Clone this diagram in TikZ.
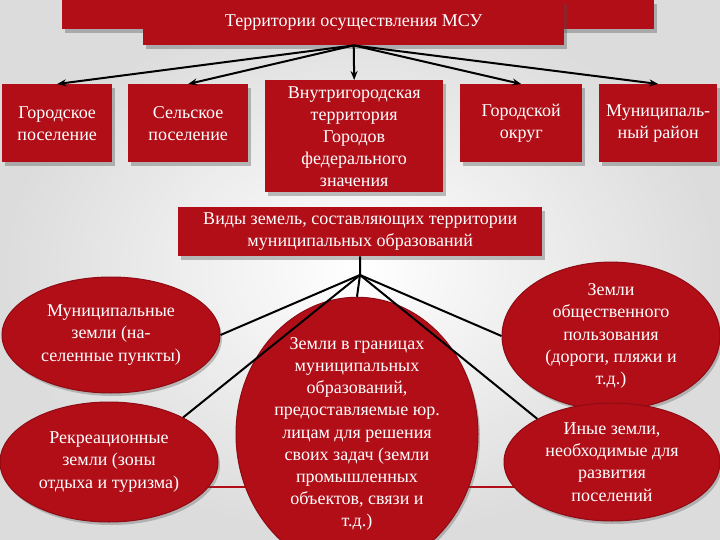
\documentclass[tikz,border=0pt]{standalone}
\usepackage{fontspec}
\setmainfont{Liberation Serif}
\usetikzlibrary{shapes.geometric,shadows,arrows.meta}
\definecolor{dred}{RGB}{178,14,24}
\definecolor{bgc}{RGB}{236,236,236}
\tikzset{
  redbox/.style={rectangle, fill=dred, text=white, align=center, inner sep=0pt,
    font=\fontsize{18}{22}\selectfont,
    drop shadow={shadow xshift=3pt, shadow yshift=-4pt, opacity=0.35, fill=black!70}},
  redell/.style={ellipse, fill=dred, text=white, align=center, inner sep=0pt,
    font=\fontsize{18}{22.2}\selectfont, draw=dred!80!black, line width=1pt,
    drop shadow={shadow xshift=2pt, shadow yshift=-3pt, opacity=0.3, fill=black!70}},
  arr/.style={-{Stealth[length=9pt,width=7pt]}, line width=2pt, black},
  fan/.style={line width=2pt, black}
}
\begin{document}
\begin{tikzpicture}[x=1pt,y=-1pt]
\useasboundingbox (0,0) rectangle (720,540);
\shade[inner color=white, outer color=bgc!85!gray] (0,0) rectangle (720,540);
% top bar
\node[redbox, minimum width=592, minimum height=29, anchor=north west] (bar) at (62,0) {};
\node[redbox, minimum width=421, minimum height=45, anchor=north west] (title) at (143,0) {Территории осуществления МСУ};
% row boxes
\node[redbox, minimum width=110, minimum height=78, anchor=north west] (b1) at (2,84) {Городское\\поселение};
\node[redbox, minimum width=120, minimum height=78, anchor=north west] (b2) at (128,84) {Сельское\\поселение};
\node[redbox, minimum width=178, minimum height=112, anchor=north west] (b3) at (265,80) {Внутригородская\\территория\\Городов\\федерального\\значения};
\node[redbox, minimum width=122, minimum height=78, anchor=north west] (b4) at (460,84) {Городской\\округ};
\node[redbox, minimum width=118, minimum height=78, anchor=north west] (b5) at (599,84) {Муниципаль-\\ный район};
\draw[arr] (title.south) -- (b1.north);
\draw[arr] (title.south) -- (b2.north);
\draw[arr] (title.south) -- (b3.north);
\draw[arr] (title.south) -- (b4.north);
\draw[arr] (title.south) -- (b5.north);
% second level
\node[redbox, minimum width=364, minimum height=49, anchor=north west] (vid) at (178,207) {Виды земель, составляющих территории\\муниципальных образований};
\coordinate (f) at (360,275);
% red band behind ellipses
\draw[dred, line width=2pt] (200,487) -- (520,487);
% ellipses
\node[redell, minimum width=218, minimum height=116] (e1) at (111,335) {Муниципальные\\земли (на-\\селенные пункты)};
\node[redell, minimum width=218, minimum height=120] (e2) at (109,462) {Рекреационные\\земли (зоны\\отдыха и туризма)};
\node[redell, minimum width=242, minimum height=226] (e3) at (357,434) {Земли в границах\\муниципальных\\образований,\\предоставляемые юр.\\лицам для решения\\своих задач (земли\\промышленных\\объектов, связи и\\т.д.)};
\node[redell, minimum width=218, minimum height=118] (e4) at (611,336) {Земли\\общественного\\пользования\\(дороги, пляжи и\\т.д.)};
\node[redell, minimum width=216, minimum height=118] (e5) at (612,462) {Иные земли,\\необходимые для\\развития\\поселений};
\draw[fan] (vid.south) -- (f);
\draw[fan] (f) -- (e1.east);
\draw[fan] (f) -- (e2.31);
\draw[fan] (f) -- (e3.north);
\draw[fan] (f) -- (e4.west);
\draw[fan] (f) -- (e5.150);
\end{tikzpicture}
\end{document}
